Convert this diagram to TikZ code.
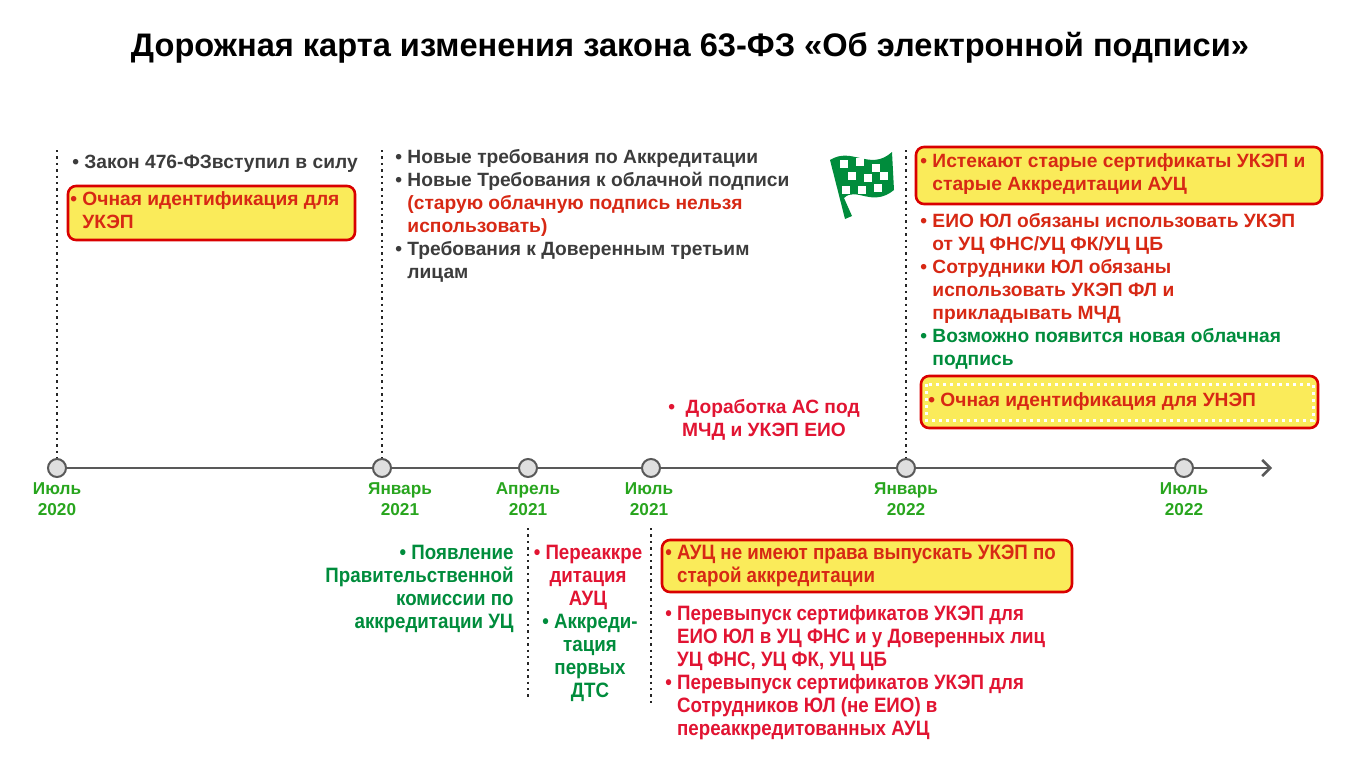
\documentclass[tikz,border=0pt]{standalone}
\usepackage{fontspec}
\setmainfont{Liberation Sans}
\newfontfamily\narrowfont[FakeStretch=0.9]{Liberation Sans}
\usetikzlibrary{calc,arrows.meta}
\definecolor{mgreen}{RGB}{40,165,30}
\definecolor{tgreen}{RGB}{0,140,60}
\definecolor{tred}{RGB}{215,40,20}
\definecolor{lred}{RGB}{225,20,50}
\definecolor{tgray}{RGB}{60,60,60}
\definecolor{hyellow}{RGB}{250,235,90}
\tikzset{
  txt/.style={font=\bfseries\fontsize{9.6}{11.5}\selectfont, inner sep=0pt, align=left},
  ntxt/.style={font=\narrowfont\bfseries\fontsize{10.4}{11.5}\selectfont, inner sep=0pt},
  hbox/.style={draw=red!85!black, line width=1.3pt, fill=hyellow, rounded corners=4pt},
  month/.style={circle, draw=gray!70!black, fill=gray!25, line width=1pt, minimum size=9pt, inner sep=0pt},
  mlabel/.style={font=\bfseries\fontsize{8.6}{10.5}\selectfont, text=mgreen, align=center, anchor=north, inner sep=0pt},
  vline/.style={dotted, line width=1.2pt, gray!30!black}
}
\newcommand{\bl}{\textbullet\ }
\newcommand{\ind}{\phantom{\textbullet\ }}
\begin{document}
\begin{tikzpicture}[x=0.5pt,y=-0.5pt]
\useasboundingbox (0,0) rectangle (1370,767);
% Title
\node[font=\bfseries\fontsize{16.3}{19}\selectfont] (title) at (690,48) {Дорожная карта изменения закона 63-ФЗ «Об электронной подписи»};

% Timeline
\coordinate (tend) at (1272,468);
\node[month] (m1) at (57,468) {};
\node[month] (m2) at (382,468) {};
\node[month] (m3) at (528,468) {};
\node[month] (m4) at (651,468) {};
\node[month] (m5) at (906,468) {};
\node[month] (m6) at (1184,468) {};
\draw[line width=1.3pt, gray!70!black, -{Straight Barb[length=4pt]}] (m1) -- (m2) -- (m3) -- (m4) -- (m5) -- (m6) -- (tend);
\node[mlabel] (l1) at (57,482) {Июль\\2020};
\node[mlabel] (l2) at (400,482) {Январь\\2021};
\node[mlabel] (l3) at (528,482) {Апрель\\2021};
\node[mlabel] (l4) at (649,482) {Июль\\2021};
\node[mlabel] (l5) at (906,482) {Январь\\2022};
\node[mlabel] (l6) at (1184,482) {Июль\\2022};

% Dotted guides
\coordinate (g1) at (57,150);
\coordinate (g2) at (382,150);
\coordinate (g5) at (906,150);
\coordinate (g3) at (528,528);
\coordinate (g4) at (651,528);
\coordinate (g3e) at (528,700);
\coordinate (g4e) at (651,705);
\draw[vline] (g1) -- (m1.north);
\draw[vline] (g2) -- (m2.north);
\draw[vline] (g5) -- (m5.north);
\draw[vline] (g3) -- (g3e);
\draw[vline] (g4) -- (g4e);

% July 2020
\node[txt, text=tgray, anchor=west] (law) at (72,164) {\bl Закон 476-ФЗвступил в силу};
\draw[hbox] (68,186) rectangle (355,240);
\node[txt, text=tred, anchor=north west] (ident1) at (70,191) {\bl Очная идентификация для\\\ind УКЭП};

% January 2021
\node[txt, text=tgray, anchor=north west] (req) at (395,149) {\bl Новые требования по Аккредитации\\
\bl Новые Требования к облачной подписи\\
\ind\textcolor{tred}{(старую облачную подпись нельзя}\\
\ind\textcolor{tred}{использовать)}\\
\bl Требования к Доверенным третьим\\
\ind лицам};

% Flag
\begin{scope}[shift={(830,146)}]
\fill[tgreen] (0,14) .. controls (22,0) and (40,26) .. (62,6) -- (64,44) .. controls (42,62) and (26,40) .. (14,52) -- (22,70) -- (15,73) -- cycle;
\foreach \i/\j in {10/14,26/12,42/18,18/26,34/28,50/26,12/40,28/40,44/38}
  \fill[white] (\i,\j) rectangle ++(8,8);
\end{scope}

% January 2022
\draw[hbox] (916,147) rectangle (1322,204);
\node[txt, text=tred, anchor=north west] (old) at (920,153) {\bl Истекают старые сертификаты УКЭП и\\\ind старые Аккредитации АУЦ};
\node[txt, text=tred, anchor=north west] (eio) at (920,213) {\bl ЕИО ЮЛ обязаны использовать УКЭП\\
\ind от УЦ ФНС/УЦ ФК/УЦ ЦБ\\
\bl Сотрудники ЮЛ обязаны\\
\ind использовать УКЭП ФЛ и\\
\ind прикладывать МЧД\\
\textcolor{tgreen}{\bl Возможно появится новая облачная}\\
\ind\textcolor{tgreen}{подпись}};
\draw[hbox] (921,376) rectangle (1318,428);
\draw[white, dotted, line width=1.5pt] (926,384) rectangle (1313,420);
\node[txt, text=tred, anchor=west] (ident2) at (928,402) {\bl Очная идентификация для УНЭП};

% Before January 2022
\node[txt, text=lred, align=center] (as) at (764,420) {\bl\ Доработка АС под\\МЧД и УКЭП ЕИО};

% Below the axis
\node[ntxt, text=tgreen, align=right, anchor=north east] (comm) at (514,545) {\bl Появление\\Правительственной\\комиссии по\\аккредитации УЦ};
\node[ntxt, text=lred, align=center, anchor=north] (reacc) at (588,545) {\bl Переаккре\\дитация\\АУЦ};
\node[ntxt, text=tgreen, align=center, anchor=north] (dts) at (590,614) {\bl Аккреди-\\тация\\первых\\ДТС};
\draw[hbox] (662,540) rectangle (1072,592);
\node[ntxt, text=tred, align=left, anchor=north west] (nokey) at (665,545) {\bl АУЦ не имеют права выпускать УКЭП по\\\ind старой аккредитации};
\node[ntxt, text=lred, align=left, anchor=north west] (reissue) at (665,605) {\bl Перевыпуск сертификатов УКЭП для\\
\ind ЕИО ЮЛ в УЦ ФНС и у Доверенных лиц\\
\ind УЦ ФНС, УЦ ФК, УЦ ЦБ\\
\bl Перевыпуск сертификатов УКЭП для\\
\ind Сотрудников ЮЛ (не ЕИО) в\\
\ind переаккредитованных АУЦ};
\end{tikzpicture}
\end{document}
